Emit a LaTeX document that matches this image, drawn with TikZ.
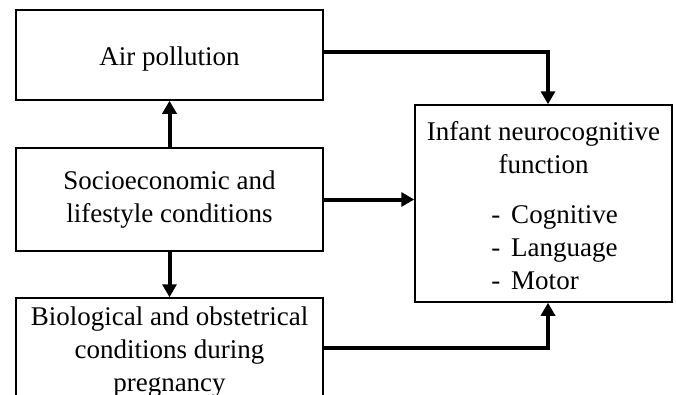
\documentclass[tikz,border=0pt]{standalone}
\usepackage{fontspec}
\setmainfont{Liberation Serif}
\usetikzlibrary{arrows.meta}

\newcommand{\boxfont}{\fontsize{27}{33}\selectfont}

\tikzset{
  box/.style={draw=black, line width=1.5pt, align=center, inner sep=0pt, font=\boxfont},
  link/.style={line width=4pt, -{Triangle[length=13pt, width=14pt]}}
}

\begin{document}
\begin{tikzpicture}[x=1pt, y=-1pt]
  \useasboundingbox (0,0) rectangle (676,394);
  \clip (0,0) rectangle (676,394);

  % Boxes
  \node[box, minimum width=307pt, minimum height=90pt] (air) at (169.5,55) {\rule{0pt}{27pt}Air pollution};
  \node[box, minimum width=307pt, minimum height=103pt] (socio) at (169.5,199.5) {Socioeconomic and\\lifestyle conditions};
  \node[box, minimum width=307pt, minimum height=108pt] (bio) at (169.5,352) {Biological and obstetrical\\conditions during\\pregnancy};
  \node[box, minimum width=257pt, minimum height=197pt] (infant) at (543.5,203.5)
    {\rule{0pt}{33pt}Infant neurocognitive\\function\\[17pt]%
     \hspace*{22pt}\begin{tabular}[t]{@{}l@{}}-\hspace{11pt}Cognitive\\-\hspace{11pt}Language\\-\hspace{11pt}Motor\end{tabular}};

  % Arrows
  \draw[link] (socio.north) -- (air.south);
  \draw[link] (socio.south) -- (bio.north);
  \draw[link] ([yshift=3pt]air.east) -| ([xshift=4.5pt]infant.north);
  \draw[link] (socio.east) -- (socio.east -| infant.west);
  \draw[link] ([yshift=4pt]bio.east) -| ([xshift=4.5pt]infant.south);
\end{tikzpicture}
\end{document}
